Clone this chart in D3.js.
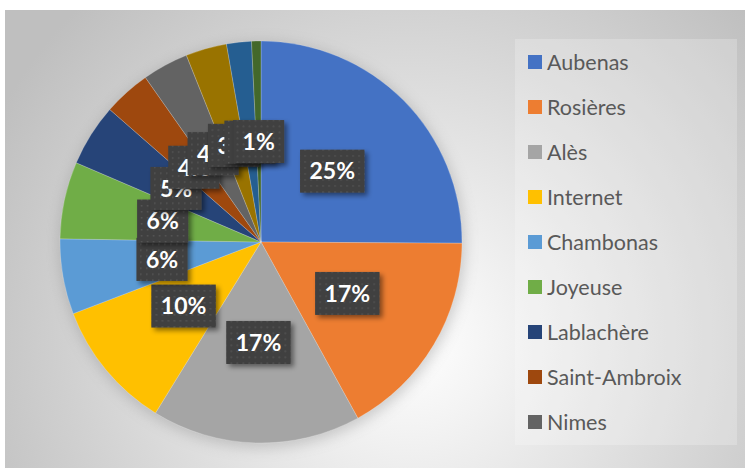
<!DOCTYPE html>
<html>
<head>
<meta charset="utf-8">
<script src="https://cdn.jsdelivr.net/npm/d3@7"></script>
<style>
  body { margin: 0; background: #fff; }
  svg { display: block; font-family: Lato, "Open Sans", sans-serif; }
</style>
</head>
<body>
<svg id="chart" width="745" height="468"></svg>
<script>
// data (share of each town, in %)
const categories = ["Aubenas", "Rosières", "Alès", "Internet", "Chambonas", "Joyeuse",
                    "Lablachère", "Saint-Ambroix", "Nimes", "Privas", "Largentière", "Autres"];
const values = [25.1, 16.9, 16.8, 10.4, 6.05, 6.2, 5.0, 3.8, 3.7, 3.3, 2.0, 0.75];
const colors = ["#4472C4", "#ED7D31", "#A5A5A5", "#FFC000", "#5B9BD5", "#70AD47",
                "#264478", "#9E480E", "#636363", "#997300", "#255E91", "#43682B"];
const legendShown = 9; // legend is cut off after Nimes

const svg = d3.select("#chart");
const W = 745, H = 468;

const defs = svg.append("defs");

// chart background gradient
const bg = defs.append("radialGradient")
    .attr("id", "bg-grad")
    .attr("gradientUnits", "userSpaceOnUse")
    .attr("cx", 410).attr("cy", 340).attr("r", 470);
bg.append("stop").attr("offset", "0%").attr("stop-color", "#ffffff");
bg.append("stop").attr("offset", "100%").attr("stop-color", "#bfbfbf");

// dotted fill of the data labels
const pat = defs.append("pattern")
    .attr("id", "dots")
    .attr("width", 6).attr("height", 6)
    .attr("patternUnits", "userSpaceOnUse");
pat.append("rect").attr("width", 6).attr("height", 6).attr("fill", "#3f3f3f");
pat.append("rect").attr("x", 2).attr("y", 2).attr("width", 1.6).attr("height", 1.6).attr("fill", "#555555");

const shadow = defs.append("filter").attr("id", "shadow")
    .attr("x", "-30%").attr("y", "-30%").attr("width", "160%").attr("height", "160%");
shadow.append("feDropShadow")
    .attr("dx", 3).attr("dy", 3).attr("stdDeviation", 2.5)
    .attr("flood-color", "#000").attr("flood-opacity", 0.45);

const pieShadow = defs.append("filter").attr("id", "pie-shadow")
    .attr("x", "-20%").attr("y", "-20%").attr("width", "140%").attr("height", "140%");
pieShadow.append("feGaussianBlur").attr("stdDeviation", 7);

// chart area
svg.append("rect")
    .attr("x", 5).attr("y", 10)
    .attr("width", W - 5).attr("height", H - 10)
    .attr("fill", "url(#bg-grad)");

// legend panel
svg.append("rect")
    .attr("x", 515).attr("y", 39)
    .attr("width", 222).attr("height", 406)
    .attr("fill", "#ffffff").attr("opacity", 0.22);

// pie
const cx = 261, cy = 242, radius = 201;

const pie = d3.pie().sort(null).value(d => d.value);
const arc = d3.arc().innerRadius(0).outerRadius(radius);

const rows = categories.map((c, i) => ({ name: c, value: values[i], color: colors[i] }));
const arcs = pie(rows);
const total = d3.sum(values);

const g = svg.append("g").attr("transform", `translate(${cx},${cy})`);

g.append("circle")
    .attr("r", radius + 2)
    .attr("cx", 1).attr("cy", 3)
    .attr("fill", "#8a8a8a")
    .attr("opacity", 0.4)
    .attr("filter", "url(#pie-shadow)");

g.selectAll("path.slice")
    .data(arcs)
    .enter().append("path")
    .attr("class", "slice")
    .attr("d", arc)
    .attr("fill", d => d.data.color)
    .attr("stroke", "#ffffff")
    .attr("stroke-opacity", 0.35)
    .attr("stroke-width", 0.6);

// data labels, placed at half radius like Excel's default
const labels = g.selectAll("g.label")
    .data(arcs)
    .enter().append("g")
    .attr("class", "label")
    .attr("transform", d => `translate(${arc.centroid(d)})`);

labels.each(function (d) {
    const lg = d3.select(this);
    const box = lg.append("rect").attr("fill", "url(#dots)").attr("filter", "url(#shadow)");
    const t = lg.append("text")
        .attr("text-anchor", "middle")
        .attr("dy", "0.36em")
        .attr("fill", "#ffffff")
        .attr("font-weight", "bold")
        .attr("font-size", 23)
        .text(Math.round(d.data.value / total * 100) + "%");
    const w = t.node().getComputedTextLength() + 19;
    const h = 43;
    box.attr("x", -w / 2).attr("y", -h / 2).attr("width", w).attr("height", h);
});

// legend
const legendY = d3.scalePoint()
    .domain(categories.slice(0, legendShown))
    .range([62, 422]);

const legend = svg.append("g")
    .selectAll("g")
    .data(rows.slice(0, legendShown))
    .enter().append("g")
    .attr("transform", d => `translate(528,${legendY(d.name)})`);

legend.append("rect")
    .attr("x", 0).attr("y", -7)
    .attr("width", 14).attr("height", 14)
    .attr("fill", d => d.color);

legend.append("text")
    .attr("x", 19)
    .attr("dy", "0.36em")
    .attr("fill", "#595959")
    .attr("font-size", 21.5)
    .text(d => d.name);
</script>
</body>
</html>
